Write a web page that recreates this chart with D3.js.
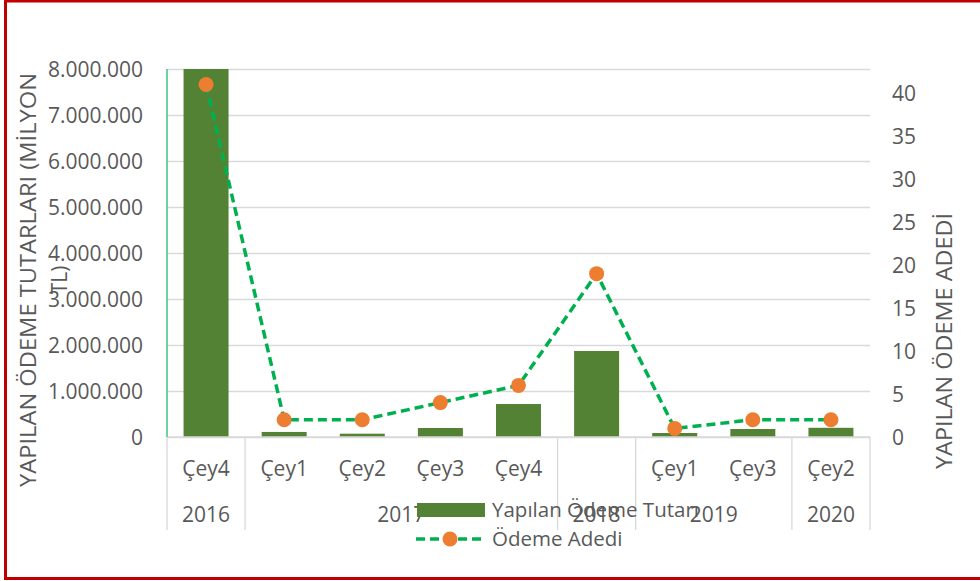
<!DOCTYPE html>
<html>
<head>
<meta charset="utf-8">
<script src="https://cdn.jsdelivr.net/npm/d3@7"></script>
<style>
  html, body { margin: 0; padding: 0; background: #fff; }
  svg { display: block; }
  text { font-family: "Open Sans", sans-serif; }
</style>
</head>
<body>
<svg id="chart" width="980" height="581"></svg>
<script>
// ---- data ----
const years    = ["2016", "2017", "2017", "2017", "2017", "2018", "2019", "2019", "2020"];
const quarters = ["Çey4", "Çey1", "Çey2", "Çey3", "Çey4", "", "Çey1", "Çey3", "Çey2"];
const amounts  = [8000000, 110000, 72000, 196000, 717000, 1870000, 87000, 174000, 200000];
const counts   = [41, 2, 2, 4, 6, 19, 1, 2, 2];
const leftTicks  = [0, 1000000, 2000000, 3000000, 4000000, 5000000, 6000000, 7000000, 8000000];
const rightTicks = [0, 5, 10, 15, 20, 25, 30, 35, 40];
const barName  = "Yapılan Ödeme Tutarı";
const lineName = "Ödeme Adedi";
const leftTitle  = ["YAPILAN ÖDEME TUTARLARI (MİLYON", "TL)"];
const rightTitle = "YAPILAN ÖDEME ADEDİ";

// ---- layout ----
const svg = d3.select("#chart");
const L = 167, R = 870, T = 69, B = 437;
const textColor = "#595959";
const gridColor = "#d9d9d9";
const fs = 21;

const idx = d3.range(quarters.length);
const pIn = 0.424;
const x = d3.scaleBand().domain(idx).range([L, R]).paddingInner(pIn).paddingOuter(pIn / 2);
const step = x.step();
const yL = d3.scaleLinear().domain([0, 8000000]).range([B, T]);
const yR = d3.scaleLinear().domain([0, 42.8]).range([B, T]);

const loc = d3.formatLocale({decimal: ",", thousands: ".", grouping: [3], currency: ["", ""]});
const fmt = loc.format(",d");

// red frame
svg.append("rect").attr("x", 5.5).attr("y", 1).attr("width", 1000).attr("height", 577.5)
  .attr("fill", "none").attr("stroke", "#c00000").attr("stroke-width", 3);

// gridlines
const grid = svg.append("g").attr("transform", `translate(${L},0)`)
  .call(d3.axisLeft(yL).tickValues(leftTicks).tickSize(-(R - L)).tickFormat(""));
grid.select(".domain").remove();
grid.selectAll("line").attr("stroke", gridColor).attr("stroke-width", 1.3);

// left axis labels
const ax = svg.append("g").attr("transform", `translate(${L},0)`)
  .call(d3.axisLeft(yL).tickValues(leftTicks).tickSize(0).tickPadding(24).tickFormat(fmt));
ax.select(".domain").remove();
ax.selectAll("text").attr("font-size", fs).attr("fill", textColor)
  .attr("font-family", "Open Sans").attr("dy", "0.36em");

// right axis labels
const axR = svg.append("g").attr("transform", `translate(${R},0)`)
  .call(d3.axisRight(yR).tickValues(rightTicks).tickSize(0).tickPadding(22));
axR.select(".domain").remove();
axR.selectAll("text").attr("font-size", fs).attr("fill", textColor)
  .attr("font-family", "Open Sans").attr("dy", "0.36em");

// bars
svg.append("g").selectAll("rect").data(idx).join("rect")
  .attr("x", i => x(i)).attr("width", x.bandwidth())
  .attr("y", i => yL(amounts[i])).attr("height", i => B - yL(amounts[i]))
  .attr("fill", "#548235");

// bottom axis line
svg.append("line").attr("x1", L).attr("x2", R).attr("y1", B).attr("y2", B)
  .attr("stroke", gridColor).attr("stroke-width", 1.5);
// left axis line (green)
svg.append("line").attr("x1", L).attr("x2", L).attr("y1", T).attr("y2", B)
  .attr("stroke", "#3cc47c").attr("stroke-width", 1.5);

// x axis: quarters
const axB = svg.append("g").attr("transform", `translate(0,${B})`)
  .call(d3.axisBottom(x).tickSize(0).tickFormat(i => quarters[i]));
axB.select(".domain").remove();
axB.selectAll("text").attr("font-size", fs).attr("fill", textColor)
  .attr("font-family", "Open Sans").attr("y", 39).attr("dy", 0);

// group (year) dividers and labels
const groups = [];
idx.forEach(i => {
  const g = groups[groups.length - 1];
  if (g && g.year === years[i]) g.end = i; else groups.push({year: years[i], start: i, end: i});
});
const bounds = [groups[0].start].concat(groups.map(g => g.end + 1));
svg.append("g").selectAll("line").data(bounds).join("line")
  .attr("x1", b => L + b * step).attr("x2", b => L + b * step)
  .attr("y1", B).attr("y2", 530)
  .attr("stroke", gridColor).attr("stroke-width", 1.3);
svg.append("g").selectAll("text").data(groups).join("text")
  .attr("x", g => L + (g.start + g.end + 1) / 2 * step)
  .attr("y", 522).attr("text-anchor", "middle")
  .attr("font-size", fs).attr("fill", textColor)
  .text(g => g.year);

// line
const line = d3.line().x(i => x(i) + x.bandwidth() / 2).y(i => yR(counts[i]));
svg.append("path").datum(idx).attr("d", line)
  .attr("fill", "none").attr("stroke", "#00b050").attr("stroke-width", 3.5)
  .attr("stroke-dasharray", "9,5");
svg.append("g").selectAll("circle").data(idx).join("circle")
  .attr("cx", i => x(i) + x.bandwidth() / 2).attr("cy", i => yR(counts[i]))
  .attr("r", 7.5).attr("fill", "#ed7d31");

// axis titles
const lt = svg.append("g").attr("transform", "translate(0,280) rotate(-90)");
lt.selectAll("text").data(leftTitle).join("text")
  .attr("x", 0).attr("y", (d, i) => 36 + i * 31)
  .attr("text-anchor", "middle").attr("font-size", 21).attr("fill", textColor)
  .attr("textLength", (d, i) => i === 0 ? 414 : null)
  .attr("lengthAdjust", "spacingAndGlyphs")
  .text(d => d);
svg.append("text").attr("transform", "translate(952,341) rotate(-90)")
  .attr("text-anchor", "middle").attr("font-size", 21).attr("fill", textColor)
  .attr("textLength", 256).attr("lengthAdjust", "spacingAndGlyphs")
  .text(rightTitle);

// legend
const lg = svg.append("g");
lg.append("rect").attr("x", 417).attr("y", 503).attr("width", 68).attr("height", 14)
  .attr("fill", "#548235");
lg.append("text").attr("x", 492).attr("y", 517).attr("font-size", 20.5).attr("fill", textColor)
  .text(barName);
lg.append("line").attr("x1", 416).attr("x2", 485).attr("y1", 539).attr("y2", 539)
  .attr("stroke", "#00b050").attr("stroke-width", 3.5).attr("stroke-dasharray", "9,5");
lg.append("circle").attr("cx", 450).attr("cy", 539).attr("r", 7.5).attr("fill", "#ed7d31");
lg.append("text").attr("x", 492).attr("y", 546).attr("font-size", 20.5).attr("fill", textColor)
  .text(lineName);
</script>
</body>
</html>
